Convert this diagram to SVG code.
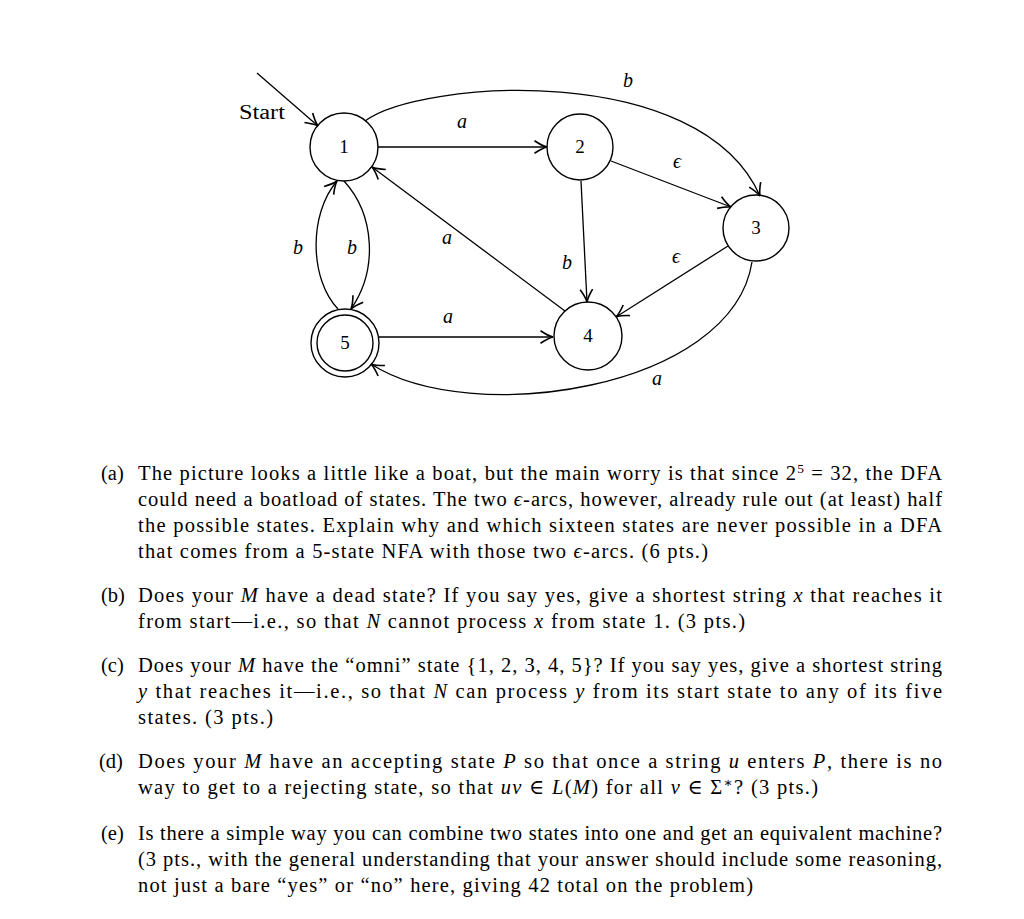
<svg xmlns="http://www.w3.org/2000/svg" width="1024" height="919" viewBox="0 0 1024 919">
<style>
.node{fill:none;stroke:#000;stroke-width:1.4}
.edge{fill:none;stroke:#000;stroke-width:1.3}
.nl{font-family:"Liberation Serif",serif;font-size:19px;text-anchor:middle;fill:#000}
.el{font-family:"Liberation Serif",serif;font-size:20px;font-style:italic;text-anchor:middle;fill:#000}
.tx{font-family:"Liberation Serif","DejaVu Serif",serif;font-size:20.5px;fill:#000}
.i{font-style:italic}
</style>
<defs>
<marker id="ah" markerUnits="userSpaceOnUse" markerWidth="20" markerHeight="20" refX="0" refY="0" viewBox="-12 -8 14 16" orient="auto">
<path d="M-10,-5 Q-4,-1 0,0 Q-4,1 -10,5" fill="none" stroke="#000" stroke-width="1.3"/>
</marker>
</defs>
<rect width="1024" height="919" fill="#fff"/>
<g id="connectors">
<path class="edge" d="M257,73 L318,126" marker-end="url(#ah)"/>
<path class="edge" d="M378,147 L547,147" marker-end="url(#ah)"/>
<path class="edge" d="M365,121 C420,80 700,60 760,196" marker-end="url(#ah)"/>
<path class="edge" d="M611,161 L731,207" marker-end="url(#ah)"/>
<path class="edge" d="M728,246 L616,317" marker-end="url(#ah)"/>
<path class="edge" d="M581,181 L587,302" marker-end="url(#ah)"/>
<path class="edge" d="M565,311 L372,167" marker-end="url(#ah)"/>
<path class="edge" d="M379,337 L553,337" marker-end="url(#ah)"/>
<path class="edge" d="M344,181 C375,215 378,270 351,309" marker-end="url(#ah)"/>
<path class="edge" d="M338,309 C310,280 308,215 337,181" marker-end="url(#ah)"/>
<path class="edge" d="M752,262 C732,390 470,428 371,364" marker-end="url(#ah)"/>
<text class="nl" x="239" y="119" style="font-size:20px;text-anchor:start" textLength="46" lengthAdjust="spacingAndGlyphs">Start</text>
<text class="el" x="462" y="128">a</text>
<text class="el" x="628" y="87">b</text>
<text class="el" x="677" y="168">ϵ</text>
<text class="el" x="676" y="263">ϵ</text>
<text class="el" x="567" y="269">b</text>
<text class="el" x="447" y="244">a</text>
<text class="el" x="298" y="254">b</text>
<text class="el" x="352" y="254">b</text>
<text class="el" x="448" y="323">a</text>
<text class="el" x="657" y="385">a</text>
</g>
<g id="n1"><circle class="node" cx="344" cy="147" r="34"/><text class="nl" x="344" y="153">1</text></g>
<g id="n2"><circle class="node" cx="580" cy="147" r="33"/><text class="nl" x="580" y="153">2</text></g>
<g id="n3"><circle class="node" cx="756" cy="228" r="33"/><text class="nl" x="756" y="234">3</text></g>
<g id="n4"><circle class="node" cx="588" cy="336" r="34"/><text class="nl" x="588" y="342">4</text></g>
<g id="n5"><circle class="node" cx="345" cy="343" r="34"/><circle class="node" cx="345" cy="343" r="28"/><text class="nl" x="345" y="349">5</text></g>
<g id="text">
<text class="tx" x="101" y="480">(a)</text>
<text class="tx" x="138" y="480" textLength="804" lengthAdjust="spacing">The picture looks a little like a boat, but the main worry is that since 2<tspan dy="-7" font-size="13.5px">5</tspan><tspan dy="7"> = 32, the DFA</tspan></text>
<text class="tx" x="138" y="506" textLength="804" lengthAdjust="spacing">could need a boatload of states. The two <tspan class="i">ϵ</tspan>-arcs, however, already rule out (at least) half</text>
<text class="tx" x="138" y="532" textLength="804" lengthAdjust="spacing">the possible states. Explain why and which sixteen states are never possible in a DFA</text>
<text class="tx" x="138" y="558" textLength="570" lengthAdjust="spacing">that comes from a 5-state NFA with those two <tspan class="i">ϵ</tspan>-arcs. (6 pts.)</text>

<text class="tx" x="101" y="602">(b)</text>
<text class="tx" x="138" y="602" textLength="804" lengthAdjust="spacing">Does your <tspan class="i">M</tspan> have a dead state? If you say yes, give a shortest string <tspan class="i">x</tspan> that reaches it</text>
<text class="tx" x="138" y="628" textLength="607" lengthAdjust="spacing">from start—i.e., so that <tspan class="i">N</tspan> cannot process <tspan class="i">x</tspan> from state 1. (3 pts.)</text>

<text class="tx" x="101" y="672">(c)</text>
<text class="tx" x="138" y="672" textLength="804" lengthAdjust="spacing">Does your <tspan class="i">M</tspan> have the “omni” state {1, 2, 3, 4, 5}? If you say yes, give a shortest string</text>
<text class="tx" x="138" y="698" textLength="804" lengthAdjust="spacing"><tspan class="i">y</tspan> that reaches it—i.e., so that <tspan class="i">N</tspan> can process <tspan class="i">y</tspan> from its start state to any of its five</text>
<text class="tx" x="138" y="724" textLength="135" lengthAdjust="spacing">states. (3 pts.)</text>

<text class="tx" x="99" y="768">(d)</text>
<text class="tx" x="138" y="768" textLength="804" lengthAdjust="spacing">Does your <tspan class="i">M</tspan> have an accepting state <tspan class="i">P</tspan> so that once a string <tspan class="i">u</tspan> enters <tspan class="i">P</tspan>, there is no</text>
<text class="tx" x="138" y="794" textLength="680" lengthAdjust="spacing">way to get to a rejecting state, so that <tspan class="i">uv</tspan> ∈ <tspan class="i">L</tspan>(<tspan class="i">M</tspan>) for all <tspan class="i">v</tspan> ∈ Σ<tspan dy="-7" font-size="13.5px">∗</tspan><tspan dy="7">? (3 pts.)</tspan></text>

<text class="tx" x="101" y="840">(e)</text>
<text class="tx" x="138" y="840" textLength="804" lengthAdjust="spacing">Is there a simple way you can combine two states into one and get an equivalent machine?</text>
<text class="tx" x="138" y="866" textLength="804" lengthAdjust="spacing">(3 pts., with the general understanding that your answer should include some reasoning,</text>
<text class="tx" x="138" y="892" textLength="615" lengthAdjust="spacing">not just a bare “yes” or “no” here, giving 42 total on the problem)</text>
</g>
</svg>
